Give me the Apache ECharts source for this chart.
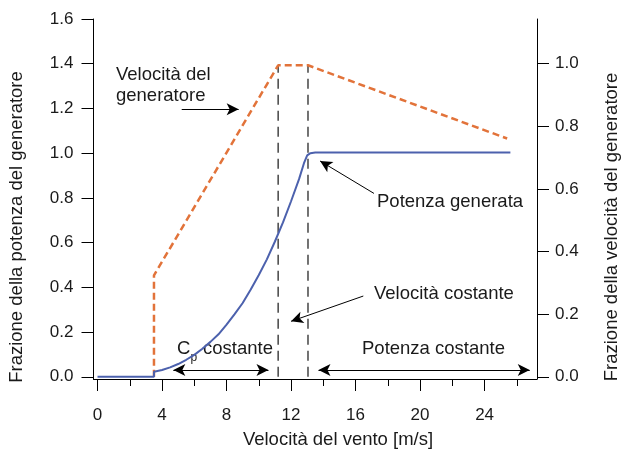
<!DOCTYPE html>
<html><head><meta charset="utf-8">
<script src="https://cdn.jsdelivr.net/npm/echarts@6/dist/echarts.min.js"></script>
<style>html,body{margin:0;padding:0;background:#fff}#c{width:622px;height:452px}</style>
</head><body><div id="c"></div>
<script>
// ---- data ----
const xTickMajor = [0, 4, 8, 12, 16, 20, 24];
const xTickMinor = [2, 6, 10, 14, 18, 22, 26];
const yLeftTicks = [0, 0.2, 0.4, 0.6, 0.8, 1.0, 1.2, 1.4, 1.6];
const yRightTicks = [0, 0.2, 0.4, 0.6, 0.8, 1.0];

// generated power (fraction, left axis)
const powerWind = [0, 3.5, 3.5, 4, 4.5, 5, 5.5, 6, 6.5, 7, 7.5, 8, 8.5, 9, 9.5, 10, 10.5, 11, 11.5, 12, 12.5, 12.8, 13.0, 13.2, 13.5, 25.6];
const powerFrac = [0, 0, 0.022, 0.03, 0.042, 0.057, 0.076, 0.098, 0.125, 0.156, 0.19, 0.233, 0.28, 0.33, 0.39, 0.455, 0.525, 0.605, 0.69, 0.785, 0.885, 0.955, 0.99, 1.0, 1.003, 1.003];

// generator speed (fraction, right axis)
const genWind = [3.5, 3.5, 11.2, 13.05, 25.4];
const genFrac = [0, 0.324, 0.995, 0.995, 0.761];

// boundaries of the constant-speed region
const regionBounds = [11.2, 13.05];
const regionTop = 1.39;

const FONT = '"Liberation Sans", Arial, Helvetica, sans-serif';
const TXT = '#1a1a1a';
const chart = echarts.init(document.getElementById('c'), null, {renderer: 'canvas'});

const gridTop = 19, gridBottom = 73, gridLeft = 93.5, gridRight = 85;

function arrowLine(x1, y1, x2, y2, both) {
  return [
    {coord: [x1, y1], symbol: both ? 'arrow' : 'none'},
    {coord: [x2, y2], symbol: 'arrow'}
  ];
}

const option = {
  animation: false,
  backgroundColor: '#fff',
  grid: {left: gridLeft, right: gridRight, top: gridTop, bottom: gridBottom},
  xAxis: [
    {
      type: 'value', min: -0.25, max: 27.25, position: 'bottom',
      axisLine: {show: true, onZero: false, lineStyle: {color: '#000', width: 1}},
      axisTick: {show: true, length: 12, customValues: xTickMajor, lineStyle: {color: '#000', width: 1}},
      axisLabel: {show: true, customValues: xTickMajor, margin: 28, fontSize: 17, fontFamily: FONT, color: TXT},
      splitLine: {show: false}
    },
    {
      type: 'value', min: -0.25, max: 27.25, position: 'bottom',
      axisLine: {show: false, onZero: false},
      axisTick: {show: true, length: 7, customValues: xTickMinor, lineStyle: {color: '#000', width: 1}},
      axisLabel: {show: false},
      splitLine: {show: false}
    }
  ],
  yAxis: [
    {
      type: 'value', min: -0.01, max: 1.6, position: 'left',
      axisLine: {show: true, onZero: false, lineStyle: {color: '#000', width: 1}},
      axisTick: {show: true, length: 12, customValues: yLeftTicks, lineStyle: {color: '#000', width: 1}},
      axisLabel: {show: true, customValues: yLeftTicks, margin: 20, fontSize: 17, fontFamily: FONT, color: TXT,
        formatter: v => Number(v).toFixed(1)},
      splitLine: {show: false}
    },
    {
      type: 'value', min: -0.01 / 1.4, max: 1.6 / 1.4, position: 'right',
      axisLine: {show: true, onZero: false, lineStyle: {color: '#000', width: 1}},
      axisTick: {show: true, length: 12, customValues: yRightTicks, lineStyle: {color: '#000', width: 1}},
      axisLabel: {show: true, customValues: yRightTicks, margin: 18, fontSize: 17, fontFamily: FONT, color: TXT,
        formatter: v => Number(v).toFixed(1)},
      splitLine: {show: false}
    }
  ],
  series: [
    {
      name: 'regionA', type: 'line', xAxisIndex: 0, yAxisIndex: 0, showSymbol: false, silent: true,
      data: [[regionBounds[0], 0], [regionBounds[0], regionTop]],
      lineStyle: {color: '#444', width: 1.5, type: [10, 6]}
    },
    {
      name: 'regionB', type: 'line', xAxisIndex: 0, yAxisIndex: 0, showSymbol: false, silent: true,
      data: [[regionBounds[1], 0], [regionBounds[1], regionTop]],
      lineStyle: {color: '#444', width: 1.5, type: [10, 6]}
    },
    {
      name: 'Velocità del generatore', type: 'line', xAxisIndex: 0, yAxisIndex: 1, showSymbol: false,
      data: genWind.map((x, i) => [x, genFrac[i]]),
      lineStyle: {color: '#e2733a', width: 2.5, type: [7, 4]}
    },
    {
      name: 'Potenza generata', type: 'line', xAxisIndex: 0, yAxisIndex: 0, showSymbol: false,
      data: powerWind.map((x, i) => [x, powerFrac[i]]),
      lineStyle: {color: '#4c61ad', width: 2},
      markLine: {
        silent: true, animation: false,
        symbolSize: [9, 12],
        label: {show: false},
        lineStyle: {color: '#000', width: 1, type: 'solid'},
        emphasis: {disabled: true},
        data: [
          arrowLine(5.22, 1.196, 8.75, 1.196, false),
          arrowLine(17.14, 0.82, 13.8, 0.965, false),
          arrowLine(16.48, 0.361, 12.0, 0.248, false),
          arrowLine(4.7, 0.030, 10.6, 0.030, true),
          arrowLine(13.7, 0.030, 26.8, 0.030, true)
        ]
      }
    }
  ],
  graphic: [
    {type: 'text', left: 116, top: 64, style: {text: 'Velocità del\ngeneratore', font: `18.5px ${FONT}`, fill: TXT, lineHeight: 21}},
    {type: 'text', left: 377, top: 192, style: {text: 'Potenza generata', font: `18.5px ${FONT}`, fill: TXT}},
    {type: 'text', left: 374, top: 284, style: {text: 'Velocità costante', font: `18.5px ${FONT}`, fill: TXT}},
    {type: 'text', left: 177, top: 339, style: {text: 'C', font: `18.5px ${FONT}`, fill: TXT}},
    {type: 'text', left: 190.5, top: 352, style: {text: 'p', font: `12px ${FONT}`, fill: TXT}},
    {type: 'text', left: 203, top: 339, style: {text: 'costante', font: `18.5px ${FONT}`, fill: TXT}},
    {type: 'text', left: 362, top: 339, style: {text: 'Potenza costante', font: `18.5px ${FONT}`, fill: TXT}},
    {type: 'text', x: 338, y: 440, style: {text: 'Velocità del vento [m/s]', font: `18.5px ${FONT}`, fill: TXT, align: 'center', verticalAlign: 'middle'}},
    {type: 'text', x: 17, y: 227, rotation: Math.PI / 2, style: {text: 'Frazione della potenza del generatore', font: `18.5px ${FONT}`, fill: TXT, align: 'center', verticalAlign: 'middle'}},
    {type: 'text', x: 612, y: 227, rotation: Math.PI / 2, style: {text: 'Frazione della velocità del generatore', font: `18.5px ${FONT}`, fill: TXT, align: 'center', verticalAlign: 'middle'}}
  ]
};
chart.setOption(option);
</script>
</body></html>
